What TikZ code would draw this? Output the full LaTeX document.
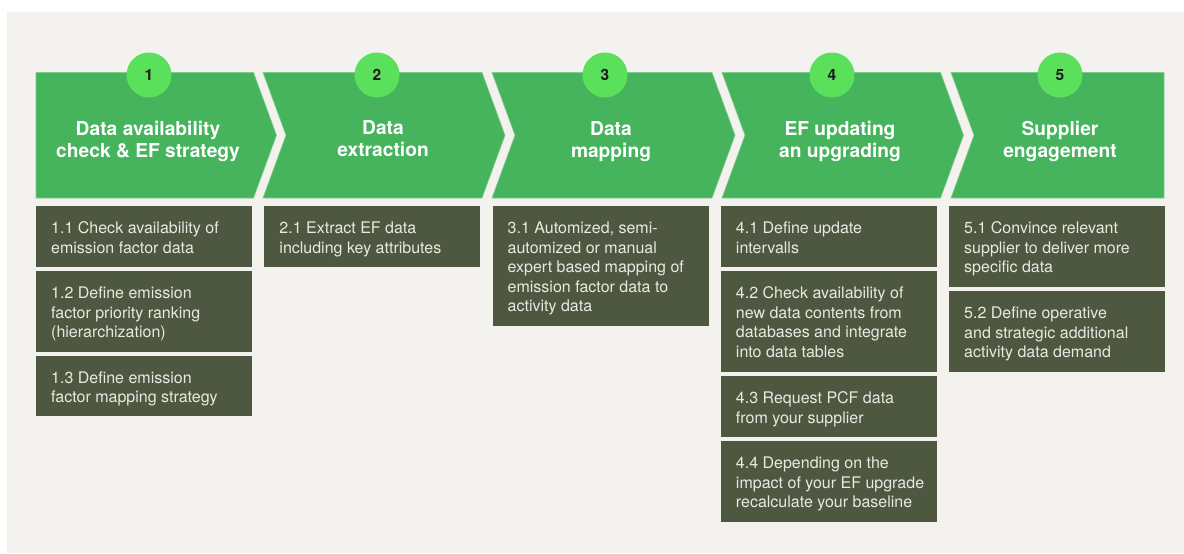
\documentclass[tikz,border=0pt]{standalone}
\usepackage{fontspec}
\setmainfont{TeX Gyre Heros}
\definecolor{bg}{HTML}{F3F2EE}
\definecolor{chev}{HTML}{45B45C}
\definecolor{chevedge}{HTML}{80CC8C}
\definecolor{circ}{HTML}{5BE05B}
\definecolor{boxc}{HTML}{4E5841}
\definecolor{boxtext}{HTML}{E9E9E2}
\definecolor{numc}{HTML}{1C1C1C}
\newcommand{\fl}{\rule{0pt}{14pt}}
\newcommand{\tl}{\rule{0pt}{16pt}}
\tikzset{
 chevron/.style={fill=chev, draw=chevedge, line width=0.6pt, line join=miter},
 numcirc/.style={circle, fill=circ, minimum size=45pt, inner sep=0pt, font=\fontsize{15.5}{18}\selectfont\bfseries, text=numc},
 title/.style={anchor=north, align=center, inner sep=0pt, text=white, font=\fontsize{19.2}{22}\selectfont\bfseries},
 stepbox/.style={anchor=north west, fill=boxc, minimum width=216pt, inner sep=0pt, draw=none},
 boxtxt/.style={anchor=north west, align=left, inner sep=0pt, text=boxtext, font=\fontsize{16}{19.5}\selectfont},
}
\begin{document}
\begin{tikzpicture}[x=1pt,y=-1pt]
\useasboundingbox (0,0) rectangle (1184,554);
\fill[white] (0,0) rectangle (1184,554);
\fill[bg] (7,12) rectangle (1184,553);

% chevrons
\draw[chevron] (36,72.5) -- (253.5,72.5) -- (276.5,135.25) -- (253.5,198) -- (36,198) -- cycle;
\draw[chevron] (263,72.5) -- (482,72.5) -- (505,135.25) -- (482,198) -- (263,198) -- (286,135.25) -- cycle;
\draw[chevron] (492,72.5) -- (712,72.5) -- (735,135.25) -- (712,198) -- (492,198) -- (515,135.25) -- cycle;
\draw[chevron] (722,72.5) -- (940.5,72.5) -- (963.5,135.25) -- (940.5,198) -- (722,198) -- (745,135.25) -- cycle;
\draw[chevron] (951,72.5) -- (1164,72.5) -- (1164,198) -- (951,198) -- (974,135.25) -- cycle;

% number circles
\node[numcirc] (c1) at (149,75) {1};
\node[numcirc] (c2) at (377,75) {2};
\node[numcirc] (c3) at (605,75) {3};
\node[numcirc] (c4) at (832,75) {4};
\node[numcirc] (c5) at (1060,75) {5};

% titles
\node[title] (h1) at (148,119) {\tl Data availability\\check \& EF strategy};
\node[title] (h2) at (383,118) {\tl Data\\extraction};
\node[title] (h3) at (611,119) {\tl Data\\mapping};
\node[title] (h4) at (840,119) {\tl EF updating\\an upgrading};
\node[title] (h5) at (1060,119) {\tl Supplier\\engagement};

% column 1
\node[stepbox, minimum height=60.7pt] (b11) at (36,206) {};
\node[boxtxt] (t11) at ([shift={(15pt,-13.3pt)}]b11.north west) {\fl 1.1 Check availability of\\emission factor data};
\node[stepbox, minimum height=80.7pt] (b12) at (36,271) {};
\node[boxtxt] (t12) at ([shift={(15pt,-13.3pt)}]b12.north west) {\fl 1.2 Define emission\\factor priority ranking\\(hierarchization)};
\node[stepbox, minimum height=60.7pt] (b13) at (36,355.5) {};
\node[boxtxt] (t13) at ([shift={(15pt,-13.3pt)}]b13.north west) {\fl 1.3 Define emission\\factor mapping strategy};

% column 2
\node[stepbox, minimum height=60.7pt] (b21) at (264.25,206) {};
\node[boxtxt] (t21) at ([shift={(15pt,-13.3pt)}]b21.north west) {\fl 2.1 Extract EF data\\including key attributes};

% column 3
\node[stepbox, minimum height=119.5pt] (b31) at (492.5,206) {};
\node[boxtxt] (t31) at ([shift={(15pt,-13.3pt)}]b31.north west) {\fl 3.1 Automized, semi-\\automized or manual\\expert based mapping of\\emission factor data to\\activity data};

% column 4
\node[stepbox, minimum height=60.7pt] (b41) at (720.75,206) {};
\node[boxtxt] (t41) at ([shift={(15pt,-13.3pt)}]b41.north west) {\fl 4.1 Define update\\intervalls};
\node[stepbox, minimum height=100.7pt] (b42) at (720.75,271) {};
\node[boxtxt] (t42) at ([shift={(15pt,-13.3pt)}]b42.north west) {\fl 4.2 Check availability of\\new data contents from\\databases and integrate\\into data tables};
\node[stepbox, minimum height=60.7pt] (b43) at (720.75,376) {};
\node[boxtxt] (t43) at ([shift={(15pt,-13.3pt)}]b43.north west) {\fl 4.3 Request PCF data\\from your supplier};
\node[stepbox, minimum height=80.7pt] (b44) at (720.75,441) {};
\node[boxtxt] (t44) at ([shift={(15pt,-13.3pt)}]b44.north west) {\fl 4.4 Depending on the\\impact of your EF upgrade\\recalculate your baseline};

% column 5
\node[stepbox, minimum height=80.7pt] (b51) at (949,206) {};
\node[boxtxt] (t51) at ([shift={(15pt,-13.3pt)}]b51.north west) {\fl 5.1 Convince relevant\\supplier to deliver more\\specific data};
\node[stepbox, minimum height=80.7pt] (b52) at (949,291) {};
\node[boxtxt] (t52) at ([shift={(15pt,-13.3pt)}]b52.north west) {\fl 5.2 Define operative\\and strategic additional\\activity data demand};
\end{tikzpicture}
\end{document}
